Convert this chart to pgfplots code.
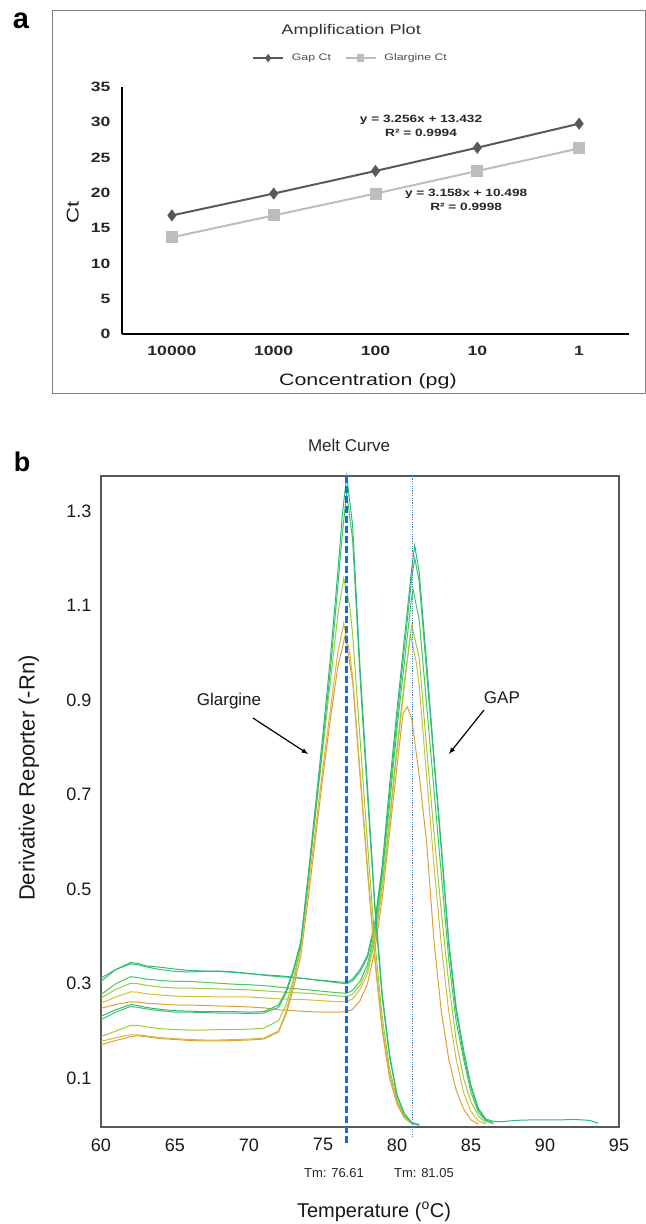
\documentclass[border=0pt]{standalone}
\usepackage{fontspec}
\setmainfont{Liberation Sans}
\newfontfamily\widesf{Liberation Sans}[FakeStretch=1.3]
\usepackage{pgfplots}
\pgfplotsset{compat=1.18}
\usepackage{pgfplotstable}

\definecolor{gapgray}{RGB}{89,89,89}
\definecolor{glagray}{RGB}{189,189,189}
\definecolor{mteal}{RGB}{45,185,125}
\definecolor{mgreen}{RGB}{70,200,90}
\definecolor{mlime}{RGB}{150,205,60}
\definecolor{myellow}{RGB}{210,190,60}
\definecolor{morange}{RGB}{222,160,55}
\definecolor{tmdash}{RGB}{25,110,205}
\definecolor{tmdot}{RGB}{60,130,210}

% Glargine melt curves
\pgfplotstableread{
T v
60 0.231
61 0.245
62 0.256
62.5 0.254
63 0.250
64 0.246
65 0.243
66 0.242
67 0.241
68 0.241
69 0.241
70 0.240
71 0.241
72 0.255
72.5 0.285
73 0.330
73.5 0.390
74 0.530
74.5 0.680
75 0.830
75.5 0.990
76 1.170
76.3 1.290
76.6 1.374
77 1.270
77.5 0.970
78 0.720
78.5 0.470
79 0.280
79.5 0.150
80 0.065
80.5 0.025
81 0.006
81.5 0.002
}\gOne
\pgfplotstableread{
T v
60 0.224
61 0.240
62 0.252
62.5 0.250
63 0.247
64 0.243
65 0.240
66 0.240
67 0.239
68 0.238
69 0.238
70 0.237
71 0.238
72 0.250
72.5 0.280
73 0.325
73.5 0.385
74 0.520
74.5 0.665
75 0.810
75.5 0.965
76 1.140
76.3 1.250
76.6 1.338
77 1.240
77.5 0.950
78 0.700
78.5 0.460
79 0.270
79.5 0.145
80 0.063
80.5 0.024
81 0.006
81.5 0.002
}\gTwo
\pgfplotstableread{
T v
60 0.188
61 0.200
62 0.212
62.5 0.212
63 0.209
64 0.205
65 0.203
66 0.202
67 0.202
68 0.203
69 0.203
70 0.204
71 0.206
72 0.222
72.5 0.255
73 0.310
73.5 0.380
74 0.520
74.5 0.660
75 0.800
75.5 0.940
76 1.080
76.4 1.157
76.8 1.100
77 1.040
77.5 0.820
78 0.600
78.5 0.390
79 0.230
79.5 0.120
80 0.055
80.5 0.020
81 0.005
81.5 0.002
}\gThree
\pgfplotstableread{
T v
60 0.178
61 0.186
62 0.192
62.5 0.192
63 0.190
64 0.186
65 0.184
66 0.182
67 0.181
68 0.181
69 0.182
70 0.183
71 0.185
72 0.200
72.5 0.240
73 0.300
73.5 0.375
74 0.500
74.5 0.630
75 0.760
75.5 0.880
76 1.000
76.4 1.062
76.8 1.000
77 0.950
77.5 0.750
78 0.550
78.5 0.360
79 0.210
79.5 0.110
80 0.050
80.5 0.018
81 0.004
81.5 0.001
}\gFour
\pgfplotstableread{
T v
60 0.171
61 0.180
62 0.188
62.5 0.190
63 0.188
64 0.184
65 0.182
66 0.180
67 0.179
68 0.179
69 0.180
70 0.181
71 0.183
72 0.198
72.5 0.235
73 0.290
73.5 0.360
74 0.480
74.5 0.610
75 0.740
75.5 0.860
76 0.970
76.5 1.037
77 0.940
77.5 0.740
78 0.540
78.5 0.350
79 0.200
79.5 0.100
80 0.045
80.5 0.016
81 0.004
81.5 0.001
}\gFive

% GAP melt curves
\pgfplotstableread{
T v
60 0.312
61 0.330
62 0.345
62.5 0.343
63 0.338
64 0.335
65 0.331
66 0.328
67 0.327
68 0.326
69 0.324
70 0.321
71 0.319
72 0.317
73 0.314
74 0.310
75 0.307
76 0.304
76.6 0.303
77 0.310
77.5 0.330
78 0.360
78.5 0.430
79 0.550
79.5 0.720
80 0.880
80.5 1.030
81 1.180
81.2 1.227
81.5 1.170
82 0.980
82.5 0.780
83 0.590
83.5 0.390
84 0.250
84.5 0.160
85 0.085
85.5 0.036
86 0.014
86.5 0.009
87 0.008
88 0.011
89 0.012
90 0.012
91 0.012
92 0.013
93 0.011
93.6 0.005
}\aOne
\pgfplotstableread{
T v
60 0.305
61 0.330
62 0.342
62.5 0.340
63 0.336
64 0.330
65 0.326
66 0.325
67 0.326
68 0.327
69 0.325
70 0.322
71 0.318
72 0.315
73 0.313
74 0.310
75 0.306
76 0.302
76.6 0.300
77 0.306
77.5 0.325
78 0.355
78.5 0.420
79 0.540
79.5 0.700
80 0.860
80.5 1.010
81 1.160
81.2 1.200
81.5 1.150
82 0.960
82.5 0.770
83 0.580
83.5 0.380
84 0.240
84.5 0.150
85 0.080
85.5 0.033
86 0.012
86.5 0.006
}\aTwo
\pgfplotstableread{
T v
60 0.277
61 0.300
62 0.315
62.5 0.313
63 0.310
64 0.307
65 0.305
66 0.305
67 0.303
68 0.301
69 0.299
70 0.298
71 0.296
72 0.293
73 0.290
74 0.287
75 0.284
76 0.281
76.6 0.280
77 0.286
77.5 0.305
78 0.340
78.5 0.410
79 0.530
79.5 0.680
80 0.840
80.5 0.980
81 1.120
81.1 1.132
81.5 1.070
82 0.890
82.5 0.710
83 0.530
83.5 0.350
84 0.220
84.5 0.140
85 0.070
85.5 0.028
86 0.010
86.5 0.004
}\aThree
\pgfplotstableread{
T v
60 0.270
61 0.288
62 0.301
62.5 0.300
63 0.297
64 0.293
65 0.291
66 0.291
67 0.290
68 0.289
69 0.288
70 0.287
71 0.285
72 0.283
73 0.281
74 0.280
75 0.277
76 0.274
76.6 0.273
77 0.278
77.5 0.297
78 0.330
78.5 0.400
79 0.510
79.5 0.650
80 0.800
80.5 0.940
81 1.058
81.5 0.990
82 0.800
82.5 0.620
83 0.450
83.5 0.300
84 0.180
84.5 0.100
85 0.050
85.5 0.020
86 0.006
}\aFour
\pgfplotstableread{
T v
60 0.259
61 0.272
62 0.283
62.5 0.282
63 0.279
64 0.276
65 0.274
66 0.273
67 0.273
68 0.272
69 0.272
70 0.272
71 0.270
72 0.268
73 0.267
74 0.266
75 0.264
76 0.262
76.6 0.262
77 0.268
77.5 0.288
78 0.320
78.5 0.390
79 0.500
79.5 0.640
80 0.790
80.5 0.930
80.9 1.040
81.3 0.980
81.5 0.930
82 0.740
82.5 0.550
83 0.380
83.5 0.240
84 0.140
84.5 0.070
85 0.030
85.5 0.010
86 0.003
}\aFive
\pgfplotstableread{
T v
60 0.248
61 0.256
62 0.262
62.5 0.261
63 0.259
64 0.257
65 0.255
66 0.255
67 0.254
68 0.253
69 0.252
70 0.251
71 0.249
72 0.245
73 0.243
74 0.241
75 0.240
76 0.240
76.6 0.241
77 0.246
77.5 0.264
78 0.300
78.5 0.370
79 0.480
79.5 0.620
80 0.760
80.4 0.870
80.7 0.886
81 0.860
81.5 0.740
82 0.600
82.5 0.390
83 0.240
83.5 0.140
84 0.075
84.5 0.035
85 0.012
85.5 0.003
}\aSix

\begin{document}
\begin{tikzpicture}
\useasboundingbox (0,0) rectangle (646bp,1224bp);

% panel a frame and letters
\draw[black!50, line width=1bp] (52bp,830bp) rectangle (645bp,1213bp);
\node[font=\bfseries\fontsize{29bp}{30bp}\selectfont] at (21bp,1203.5bp) {a};
\node[font=\bfseries\fontsize{27bp}{28bp}\selectfont] at (22bp,762bp) {b};

% panel a: amplification plot
\begin{axis}[
  scale only axis, width=507bp, height=247bp,
  at={(122bp,890bp)}, anchor=south west,
  xmin=-0.49, xmax=4.49, ymin=0, ymax=35,
  axis lines*=left,
  axis line style={black, line width=1.6bp, -},
  xtick={0,1,2,3,4}, xticklabels={10000,1000,100,10,1},
  ytick={0,5,10,15,20,25,30,35},
  yticklabels={0,5,10,15,20,25,30,35},
  major tick length=0pt,
  tick label style={font=\widesf\bfseries\fontsize{13.5bp}{15bp}\selectfont, text=black!85},
  xticklabel style={yshift=-9bp},
  yticklabel style={xshift=-8bp},
  title={Amplification Plot},
  title style={at={(axis description cs:0.452,1.202)}, anchor=center,
    font=\widesf\fontsize{14bp}{16bp}\selectfont, text=black!80},
  xlabel={Concentration (pg)},
  xlabel style={at={(axis description cs:0.485,-0.19)}, anchor=center,
    font=\widesf\fontsize{16.5bp}{18bp}\selectfont, text=black!90},
  ylabel={Ct},
  ylabel style={at={(axis description cs:-0.097,0.494)}, anchor=center,
    font=\widesf\fontsize{17bp}{18bp}\selectfont, text=black!90},
  legend columns=2,
  legend style={draw=none, fill=none, at={(0.451,1.117)}, anchor=center,
    font=\widesf\fontsize{9.5bp}{10bp}\selectfont, text=black!70,
    /tikz/every odd column/.append style={column sep=6bp},
    /tikz/every even column/.append style={column sep=12bp}},
  legend image code/.code={\draw[mark repeat=2,mark phase=2,#1,mark size=3bp,line width=1.5bp]
    plot coordinates {(0bp,0bp) (15bp,0bp) (30bp,0bp)};},
  clip=false,
]
\addplot[gapgray, line width=2bp, mark=diamond*, mark size=4.5bp]
  coordinates {(0,16.8) (1,19.9) (2,23.1) (3,26.4) (4,29.8)};
\addlegendentry{Gap Ct}
\addplot[glagray, line width=2bp, mark=square*, mark size=5bp]
  coordinates {(0,13.7) (1,16.8) (2,19.9) (3,23.1) (4,26.3)};
\addlegendentry{Glargine Ct}
\node[font=\widesf\bfseries\fontsize{10.5bp}{14bp}\selectfont, align=center, text=black!85]
  at (axis cs:2.447,29.47) {y = 3.256x + 13.432\\R² = 0.9994};
\node[font=\widesf\bfseries\fontsize{10.5bp}{14bp}\selectfont, align=center, text=black!85]
  at (axis cs:2.89,18.99) {y = 3.158x + 10.498\\R² = 0.9998};
\end{axis}

% panel b: melt curve
\begin{axis}[
  scale only axis, width=518bp, height=651bp,
  at={(101bp,97bp)}, anchor=south west,
  xmin=60, xmax=95, ymin=-0.003, ymax=1.374,
  axis line style={black!65, line width=1.3bp},
  xtick={60,65,70,75,80,85,90,95}, xticklabels={60,65,70,75,80,85,90,95},
  ytick={0.1,0.3,0.5,0.7,0.9,1.1,1.3}, yticklabels={0.1,0.3,0.5,0.7,0.9,1.1,1.3},
  major tick length=0pt,
  tick label style={font=\fontsize{18bp}{20bp}\selectfont, text=black!90},
  xticklabel style={yshift=-8bp},
  yticklabel style={xshift=-6bp},
  title={Melt Curve},
  title style={at={(axis description cs:0.479,1.0384)}, anchor=center,
    font=\fontsize{17bp}{18bp}\selectfont, text=black!85},
  xlabel={Temperature (\textsuperscript{o}C)},
  xlabel style={at={(axis description cs:0.527,-0.1306)}, anchor=center,
    font=\fontsize{20bp}{22bp}\selectfont, text=black!90},
  ylabel={Derivative Reporter (-Rn)},
  ylabel style={at={(axis description cs:-0.139,0.536)}, anchor=center,
    font=\fontsize{22bp}{24bp}\selectfont, text=black!90},
  clip=false,
  every axis plot/.append style={line width=1bp, no markers},
]
\addplot[morange] table[x=T,y=v] {\aSix};
\addplot[myellow] table[x=T,y=v] {\aFive};
\addplot[mlime] table[x=T,y=v] {\aFour};
\addplot[mgreen] table[x=T,y=v] {\aThree};
\addplot[mgreen!60!mteal] table[x=T,y=v] {\aTwo};
\addplot[mteal] table[x=T,y=v] {\aOne};
\addplot[morange] table[x=T,y=v] {\gFive};
\addplot[myellow!70!morange] table[x=T,y=v] {\gFour};
\addplot[mlime] table[x=T,y=v] {\gThree};
\addplot[mgreen!60!mteal] table[x=T,y=v] {\gTwo};
\addplot[mteal] table[x=T,y=v] {\gOne};

\draw[tmdash, line width=2.8bp, dash pattern=on 7bp off 3bp]
  (axis cs:76.61,1.374) -- (axis cs:76.61,-0.041);
\draw[tmdot, line width=1.1bp, dash pattern=on 1.2bp off 1.2bp]
  (axis cs:81.05,1.374) -- (axis cs:81.05,-0.026);

\node[font=\fontsize{13bp}{14bp}\selectfont, text=black!85] at (axis cs:75.74,-0.1) {Tm: 76.61};
\node[font=\fontsize{13bp}{14bp}\selectfont, text=black!85] at (axis cs:81.82,-0.1) {Tm: 81.05};

\node[font=\fontsize{17bp}{18bp}\selectfont, text=black!90] at (axis cs:68.65,0.898) {Glargine};
\node[font=\fontsize{17bp}{18bp}\selectfont, text=black!90] at (axis cs:87.09,0.906) {GAP};
\draw[-latex, line width=1.2bp] (axis cs:70.27,0.862) -- (axis cs:73.99,0.786);
\draw[-latex, line width=1.2bp] (axis cs:85.88,0.879) -- (axis cs:83.51,0.786);
\end{axis}
\end{tikzpicture}
\end{document}
